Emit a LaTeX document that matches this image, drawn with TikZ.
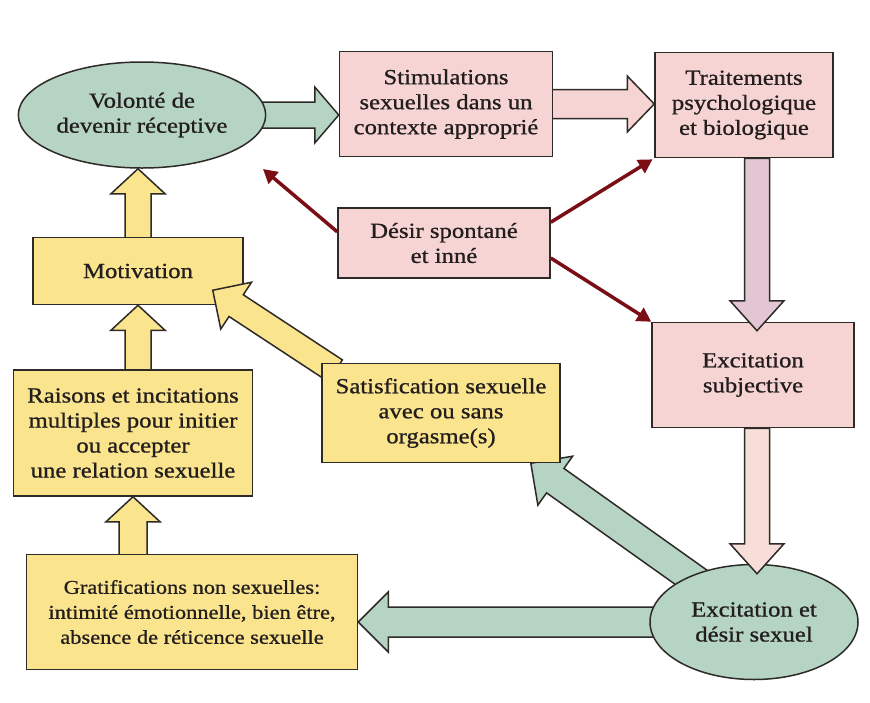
\documentclass[tikz,border=0pt]{standalone}
\usepackage{fontspec}
\setmainfont{Liberation Serif}[FakeStretch=1.15, FakeBold=0.9]
\usetikzlibrary{calc,arrows.meta,shapes.geometric}
\pgfdeclarelayer{background}
\pgfdeclarelayer{mid}
\pgfdeclarelayer{front}
\pgfsetlayers{background,main,mid,front}
\definecolor{gfill}{RGB}{182,212,196}
\definecolor{pinkc}{RGB}{247,212,212}
\definecolor{lilac}{RGB}{226,198,212}
\definecolor{pinkarr}{RGB}{248,222,216}
\definecolor{yelc}{RGB}{250,228,142}
\definecolor{outl}{RGB}{45,42,40}
\definecolor{txt}{RGB}{35,30,30}
\definecolor{redc}{RGB}{122,14,20}
% #1 style, #2 start, #3 tip, #4 shaft half width, #5 head half width, #6 head length
\newcommand\fatarrow[6]{%
  \coordinate (fahb) at ($(#3)!#6!(#2)$);
  \path[#1] ($(#2)!#4!90:(#3)$) -- ($(fahb)!#4!90:(#3)$) -- ($(fahb)!#5!90:(#3)$)
    -- (#3) -- ($(fahb)!#5!-90:(#3)$) -- ($(fahb)!#4!-90:(#3)$) -- ($(#2)!#4!-90:(#3)$) -- cycle;
}
\begin{document}
\begin{tikzpicture}[x=1pt,y=-1pt,
  font=\fontsize{21.5}{25}\selectfont,
  box/.style={draw=outl, line width=1.5pt, rectangle, align=center, inner sep=2pt, text=txt},
  pinkbox/.style={box, fill=pinkc},
  yelbox/.style={box, fill=yelc},
  oval/.style={box, ellipse, fill=gfill},
  fa/.style={draw=outl, line width=1.5pt, line join=miter},
  redarr/.style={draw=redc, line width=3.5pt, -{Triangle[length=14pt,width=15pt]}}]
\useasboundingbox (0,0) rectangle (870,702);

\node[oval, minimum width=211pt, minimum height=106pt] (v) at (142,115) {Volonté de\\devenir réceptive};
\node[pinkbox, minimum width=213pt, minimum height=105pt] (s) at (446,104) {Stimulations\\sexuelles dans un\\contexte approprié};
\node[pinkbox, minimum width=178pt, minimum height=105pt] (t) at (744,105) {Traitements\\psychologique\\et biologique};
\node[pinkbox, minimum width=212pt, minimum height=70pt] (d) at (444,243) {Désir spontané\\et inné};
\node[yelbox, minimum width=210pt, minimum height=67pt] (m) at (138,271) {Motivation};
\node[yelbox, minimum width=239pt, minimum height=126pt] (r) at (133,433) {Raisons et incitations\\multiples pour initier\\ou accepter\\une relation sexuelle};
\begin{pgfonlayer}{front}
\node[yelbox, minimum width=238pt, minimum height=99pt] (sat) at (441,413) {Satisfication sexuelle\\avec ou sans\\orgasme(s)};
\end{pgfonlayer}
\node[pinkbox, minimum width=202pt, minimum height=105pt] (es) at (753,375) {Excitation\\subjective};
\node[oval, minimum width=208pt, minimum height=115pt] (e) at (754,622) {Excitation et\\désir sexuel};
\node[yelbox, minimum width=331pt, minimum height=115pt, font=\fontsize{19.5}{25}\selectfont] (g) at (192,612) {Gratifications non sexuelles:\\intimité émotionnelle, bien être,\\absence de réticence sexuelle};

\begin{pgfonlayer}{background}
  \fill[white] (0,0) rectangle (870,702);
  \fatarrow{fa, fill=gfill}{v.center}{v.center -| s.west}{13pt}{28pt}{24pt}
  \fatarrow{fa, fill=pinkc}{s.center}{s.center -| t.west}{14.5pt}{28pt}{27pt}
  \fatarrow{fa, fill=yelc}{m.center}{m.center |- v.south}{13pt}{27pt}{25pt}
  \fatarrow{fa, fill=yelc}{m.south |- r.center}{m.south}{13pt}{27pt}{25pt}
  \fatarrow{fa, fill=yelc}{r.south |- g.center}{r.south}{14pt}{27pt}{25pt}
  \fatarrow{fa, fill=gfill}{e.center}{e.center -| g.east}{15pt}{30pt}{30pt}
  \coordinate (sattip) at ($(sat.south)!0.75!(sat.south east)$);
  \fatarrow{fa, fill=gfill}{e.center}{sattip}{15pt}{30pt}{30pt}
\end{pgfonlayer}

\begin{pgfonlayer}{mid}
  \coordinate (tfrom) at ($(t.south)+(13,0)$);
  \coordinate (estip) at ($(es.north)+(4,9)$);
  \fatarrow{fa, fill=lilac}{tfrom}{estip}{12.5pt}{27pt}{30pt}
  \coordinate (esfrom) at ($(es.south)+(4,0)$);
  \coordinate (etip) at ($(e.north)+(3,10)$);
  \fatarrow{fa, fill=pinkarr}{esfrom}{etip}{12.5pt}{27pt}{30pt}
  \coordinate (satfrom) at ($(sat.north west)+(14,8)$);
  \coordinate (mtip) at ($(m.south east)+(-31,-15)$);
  \fatarrow{fa, fill=yelc}{satfrom}{mtip}{13pt}{28pt}{28pt}
\end{pgfonlayer}

\coordinate (vtip) at ($(v.south east)+(33,16)$);
\draw[redarr] (d.174) -- (vtip);
\draw[redarr, shorten >=2pt] (d.11) -- (t.south west);
\draw[redarr] (d.-8) -- (es.north west);
\end{tikzpicture}
\end{document}
